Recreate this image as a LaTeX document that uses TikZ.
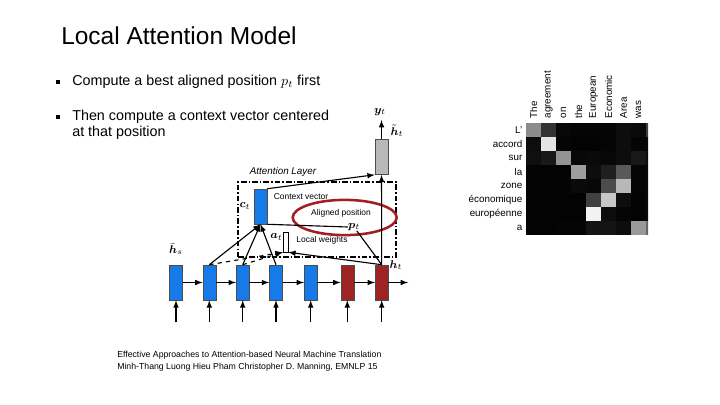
\documentclass[tikz,border=0pt]{standalone}
\usepackage{fontspec}
\setmainfont{Liberation Sans}
\usepackage{bm}
\definecolor{rnnblue}{RGB}{22,122,232}
\definecolor{rnnred}{RGB}{158,36,36}
\definecolor{ringred}{RGB}{160,30,36}
\definecolor{outgray}{RGB}{185,185,185}

\begin{document}
\begin{tikzpicture}[x=0.025cm, y=-0.025cm,
    hbox/.style={rectangle, draw=black!70, minimum width=0.325cm, minimum height=0.875cm, inner sep=0pt},
    line/.style={draw, -latex, thick},
    note/.style={font=\fontsize{6}{7}\selectfont, inner sep=0pt},
    lbl/.style={font=\fontsize{8}{9}\selectfont, inner sep=0pt},
    hmlbl/.style={font=\fontsize{7}{8}\selectfont, inner sep=1pt},
    bullet/.style={rectangle, fill=black, minimum size=0.09cm, inner sep=0pt}
    ]
    \useasboundingbox[fill=white] (0,0) rectangle (720,405);

    % slide text
    \node [anchor=west, inner sep=0pt, font=\fontsize{17.4}{20}\selectfont] (title) at (61,36) {Local Attention Model};
    \node [bullet] (b1) at (58,82) {};
    \node [bullet] (b2) at (58,117) {};
    \node [anchor=west, inner sep=0pt, font=\fontsize{10.2}{11.3}\selectfont] (t1) at (72,82) {Compute a best aligned position $p_t$ first};
    \node [anchor=west, align=left, inner sep=0pt, font=\fontsize{10.2}{11.3}\selectfont] (t2) at (72,125) {Then compute a context vector centered\\at that position};
    \node [anchor=west, align=left, inner sep=0pt, font=\fontsize{6.2}{8.5}\selectfont] (cite) at (117,361) {Effective Approaches to Attention-based Neural Machine Translation\\Minh-Thang Luong Hieu Pham Christopher D. Manning, EMNLP 15};

    % encoder / decoder states
    \node [hbox, fill=rnnblue] (h1) at (176,282.5) {};
    \node [hbox, fill=rnnblue] (h2) at (209.3,282.5) {};
    \node [hbox, fill=rnnblue] (h3) at (242.7,282.5) {};
    \node [hbox, fill=rnnblue] (h4) at (276,282.5) {};
    \node [hbox, fill=rnnblue] (h5) at (310.7,282.5) {};
    \node [hbox, fill=rnnred] (h6) at (347.3,282.5) {};
    \node [hbox, fill=rnnred] (h7) at (381.7,282.5) {};
    \coordinate (out) at (408,282.5);

    \foreach \i in {1,...,7} {
        \path (h\i.south) ++(0,22) coordinate (in\i);
        \draw [line] (in\i) -- (h\i.south);
    }
    \foreach \i/\j in {1/2,2/3,3/4,4/5,5/6,6/7}
        \draw [line] (h\i) -- (h\j);
    \draw [line] (h7) -- (out);

    % attention layer
    \node [rectangle, draw, thick, dash pattern=on 4pt off 1.5pt on 1pt off 1.5pt, minimum width=3.95cm, minimum height=1.875cm, inner sep=0pt] (att) at (317,219.5) {};
    \node [note, font=\fontsize{7}{8}\selectfont\itshape] (attname) at (283,172) {Attention Layer};
    \node [hbox, fill=rnnblue] (ct) at (260.5,206.5) {};
    \node [hbox, fill=outgray] (ht) at (381.5,157) {};
    \node [rectangle, draw, fill=white, minimum width=0.125cm, minimum height=0.5cm, inner sep=0pt] (wt) at (285.5,242) {};
    \coordinate (yt) at (381.5,120);

    \node [lbl] (ctl) at (245,206) {$\bm{c}_t$};
    \node [lbl] (atl) at (276.5,237) {$\bm{a}_t$};
    \node [lbl] (pt) at (354,227) {$\bm{p}_t$};
    \node [lbl] (hsl) at (176,249) {$\bar{\bm{h}}_s$};
    \node [lbl] (htl) at (396,265) {$\bm{h}_t$};
    \node [lbl] (tl) at (397,131) {$\tilde{\bm{h}}_t$};
    \node [lbl] (ytl) at (380,112) {$\bm{y}_t$};

    \node [note] (cvec) at (301,197) {Context vector};
    \node [note] (apos) at (341,213) {Aligned position};
    \node [note] (lw) at (322,240) {Local weights};
    \draw [ringred, line width=1.8pt] (344.7,217.5) ellipse (1.3cm and 0.44cm);

    \draw [line] (h2.north) -- (ct.south);
    \draw [line] (h3.north) -- (ct.south);
    \draw [line] (h4.north) -- (ct.south);
    \draw [line, dashed] (h2.north) -- (wt.south west);
    \draw [line, dashed] (h3.north) -- (wt.south west);
    \draw [line] (h7.north) -- (wt.south east);
    \draw [thick] (h7.north) -- (pt);
    \draw [thick] (pt.west) -- (ct.south east);
    \draw [line] (h7) -- (ht);
    \draw [line] (ct.north east) -- (ht.south west);
    \draw [line] (ht) -- (yt);

    % alignment matrix
    \begin{scope}
        \clip (526,123.3) rectangle (648,234.5);
        \foreach \row [count=\r] in {{55,20,3,2,2,2,5,4,25},{5,90,2,1,1,2,5,2,3},{6,10,58,3,4,3,5,10,5},{1,1,1,62,5,12,35,2,3},{1,1,1,4,3,30,72,2,3},{1,1,1,1,25,78,5,1,3},{1,1,1,1,95,5,2,1,3},{1,1,2,2,8,8,5,60,40}}
            \foreach \v [count=\c] in \row
                \fill [white!\v!black] ({526+15*(\c-1)},{123.3+13.9*(\r-1)}) rectangle ++(15.2,14.1);
    \end{scope}
    \foreach \w [count=\r] in {L’,accord,sur,la,zone,économique,européenne,a}
        \node [hmlbl, anchor=east] (row\r) at (524,{123.3+13.9*(\r-0.5)}) {\w};
    \foreach \w [count=\c] in {The,agreement,on,the,European,Economic,Area,was}
        \node [hmlbl, rotate=90, anchor=west] (col\c) at ({526+15*(\c-0.5)},120) {\w};
\end{tikzpicture}
\end{document}
